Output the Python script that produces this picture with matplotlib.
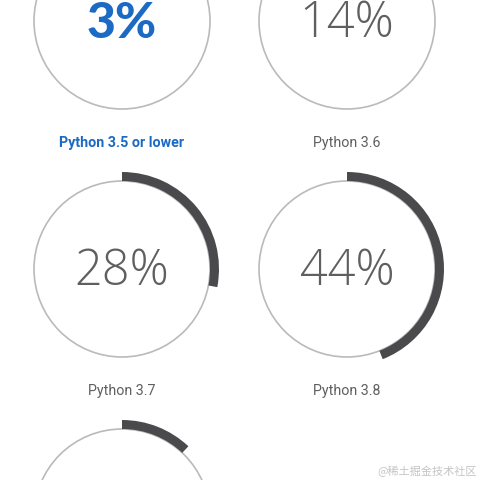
import matplotlib
matplotlib.use('Agg')
import matplotlib.pyplot as plt
from matplotlib.patches import Circle, Wedge

# -------------- Data --------------
versions = ['Python 3.5 or lower', 'Python 3.6', 'Python 3.7', 'Python 3.8', 'Python 3.9']
shares = [3, 14, 28, 44, 12]
highlight = 0  # the one drawn in blue

# -------------- Style --------------
ring_color = '#bababa'
arc_color = '#4a4a4d'
text_gray = '#5f5f5f'
blue = '#1b6ac3'

# grid layout in pixels (figure is 480x480, y measured from top)
col_x = [122, 347]
row_y = [21, 269, 517]
r = 88        # thin ring radius
arc_w = 9     # thick arc width, sits outside the ring

fig = plt.figure(figsize=(4.8, 4.8), dpi=100)
ax = fig.add_axes([0, 0, 1, 1])
ax.set_xlim(0, 480)
ax.set_ylim(0, 480)
ax.set_aspect('equal')
ax.axis('off')

for i, (name, pct) in enumerate(zip(versions, shares)):
    cx = col_x[i % 2]
    cy = 480 - row_y[i // 2]
    ax.add_patch(Circle((cx, cy), r, fill=False, ec=ring_color, lw=1.2))
    ax.add_patch(Wedge((cx, cy), r + arc_w, 90 - 360 * pct / 100, 90,
                       width=arc_w, fc=arc_color, ec='none'))
    if cy < 0:
        continue  # last row only shows the top of its ring
    if i == highlight:
        ax.text(cx, cy - 3, f'{pct}%', ha='center', va='center', fontsize=36,
                family='Lato', fontweight='black', color=blue)
        ax.text(cx, cy - 122, name, ha='center', va='center', fontsize=10.3,
                family='Roboto', fontweight='bold', color=blue)
    else:
        ax.text(cx, cy - 3, f'{pct}%', ha='center', va='center', fontsize=35,
                family='Open Sans', fontweight='light', color=text_gray)
        ax.text(cx, cy - 122, name, ha='center', va='center', fontsize=10.3,
                family='Roboto', color=text_gray)

# watermark
ax.text(477, 9, '@稀土掘金技术社区', ha='right', va='center', fontsize=8,
        family=['Noto Sans CJK SC', 'DejaVu Sans'], color='#c4c4c4')

plt.savefig('out.png', dpi=100, facecolor='white')
